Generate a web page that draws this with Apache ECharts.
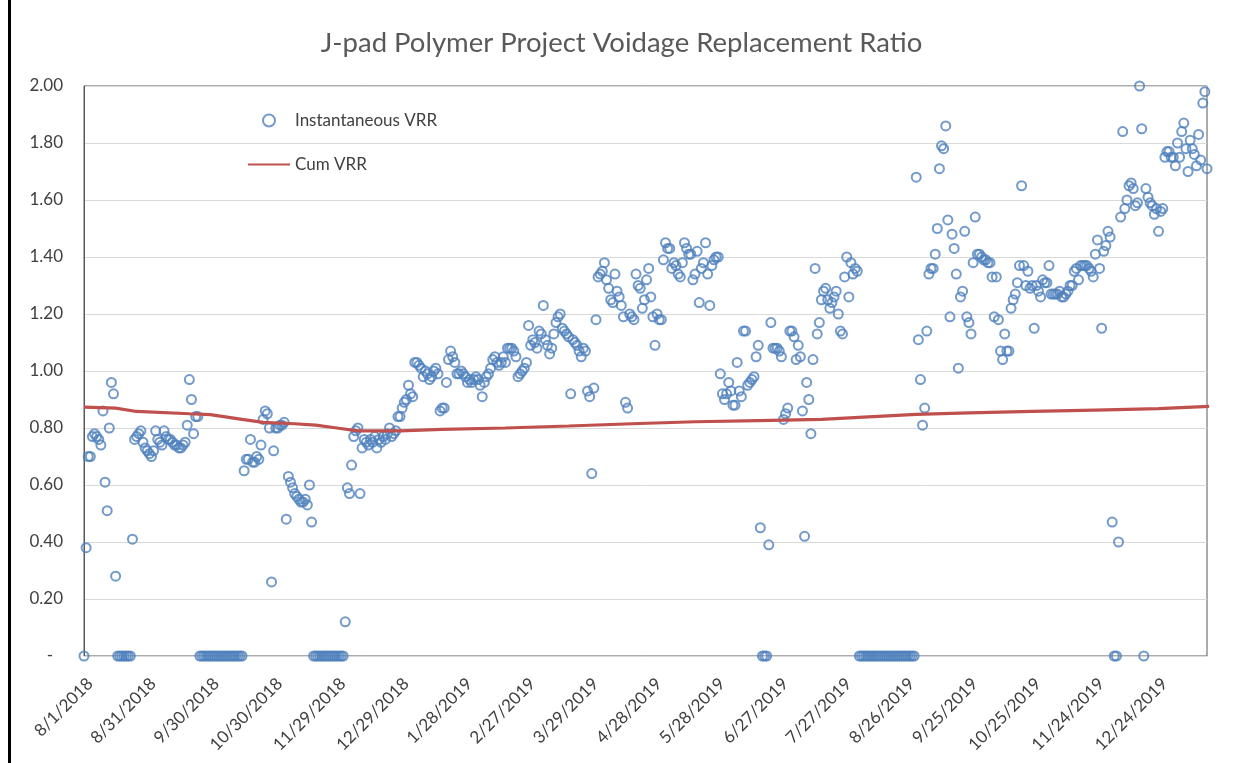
<!DOCTYPE html>
<html><head><meta charset="utf-8">
<script src="https://cdn.jsdelivr.net/npm/echarts@6/dist/echarts.min.js"></script>
<style>html,body{margin:0;padding:0;background:#fff}#c{width:1243px;height:763px}</style>
</head><body><div id="c"></div>
<script>
// Daily Instantaneous VRR, day 0 = 8/1/2018 (one array per month)
const vrrAug2018 = [0,0.38,0.70,0.70,0.77,0.78,0.77,0.76,0.74,0.86,0.61,0.51,0.80,0.96,0.92,0.28,0,0,0,0,0,0,0,0.41,0.76,0.77,0.78,0.79,0.75,0.73,0.72];
const vrrSep2018 = [0.71,0.70,0.72,0.79,0.76,0.75,0.74,0.79,0.77,0.76,0.76,0.75,0.74,0.74,0.73,0.73,0.74,0.75,0.81,0.97,0.90,0.78,0.84,0.84,0,0,0,0,0,0];
const vrrOct2018 = [0,0,0,0,0,0,0,0,0,0,0,0,0,0,0,0.65,0.69,0.69,0.76,0.68,0.68,0.70,0.69,0.74,0.83,0.86,0.85,0.80,0.26,0.72,0.80];
const vrrNov2018 = [0.80,0.81,0.81,0.82,0.48,0.63,0.61,0.59,0.57,0.56,0.55,0.54,0.54,0.55,0.53,0.60,0.47,0,0,0,0,0,0,0,0,0,0,0,0];
const vrrDec2018 = [0,0,0,0.12,0.59,0.57,0.67,0.77,0.79,0.80,0.57,0.73,0.76,0.75,0.74,0.76,0.75,0.77,0.73,0.76,0.75,0.77,0.76,0.78,0.80,0.77,0.78,0.79,0.84,0.84,0.87];
const vrrJan2019 = [0.89,0.90,0.95,0.92,0.91,1.03,1.03,1.02,1.01,0.98,1.00,0.99,0.97,0.98,1.00,1.01,0.99,0.86,0.87,0.87,0.96,1.04,1.07,1.05,1.03,0.99,0.99,1.00,0.99,0.98,0.96];
const vrrFeb2019 = [0.97,0.96,0.97,0.98,0.97,0.95,0.91,0.96,0.98,0.99,1.01,1.04,1.05,1.03,1.02,1.03,1.05,1.03,1.08,1.08,1.08,1.07,1.05,0.98,0.99,1.00,1.01,1.03];
const vrrMar2019 = [1.16,1.09,1.11,1.10,1.08,1.14,1.13,1.23,1.11,1.09,1.06,1.08,1.13,1.17,1.19,1.20,1.15,1.14,1.13,1.12,0.92,1.11,1.10,1.09,1.07,1.05,1.08,1.07,0.93,0.91,0.64];
const vrrApr2019 = [0.94,1.18,1.33,1.34,1.35,1.38,1.32,1.29,1.25,1.24,1.34,1.28,1.26,1.23,1.19,0.89,0.87,1.20,1.19,1.18,1.34,1.30,1.29,1.22,1.25,1.32,1.36,1.26,1.19,1.09];
const vrrMay2019 = [1.20,1.18,1.18,1.39,1.45,1.43,1.43,1.36,1.38,1.37,1.34,1.33,1.38,1.45,1.43,1.41,1.41,1.32,1.34,1.42,1.24,1.36,1.38,1.45,1.34,1.23,1.37,1.39,1.40,1.40,0.99];
const vrrJun2019 = [0.92,0.90,0.92,0.96,0.93,0.88,0.88,1.03,0.93,0.91,1.14,1.14,0.95,0.96,0.97,0.98,1.05,1.09,0.45,0,0,0,0.39,1.17,1.08,1.08,1.08,1.07,1.05,0.83];
const vrrJul2019 = [0.85,0.87,1.14,1.14,1.12,1.04,1.09,1.05,0.86,0.42,0.96,0.90,0.78,1.04,1.36,1.13,1.17,1.25,1.28,1.29,1.25,1.22,1.24,1.26,1.28,1.20,1.14,1.13,1.33,1.40,1.26];
const vrrAug2019 = [1.38,1.34,1.36,1.35,0,0,0,0,0,0,0,0,0,0,0,0,0,0,0,0,0,0,0,0,0,0,0,0,0,0,0];
const vrrSep2019 = [1.68,1.11,0.97,0.81,0.87,1.14,1.34,1.36,1.36,1.41,1.50,1.71,1.79,1.78,1.86,1.53,1.19,1.48,1.43,1.34,1.01,1.26,1.28,1.49,1.19,1.17,1.13,1.38,1.54,1.41];
const vrrOct2019 = [1.41,1.40,1.39,1.39,1.38,1.38,1.33,1.19,1.33,1.18,1.07,1.04,1.13,1.07,1.07,1.22,1.25,1.27,1.31,1.37,1.65,1.37,1.30,1.35,1.29,1.30,1.15,1.30,1.28,1.26,1.32];
const vrrNov2019 = [1.31,1.31,1.37,1.27,1.27,1.27,1.27,1.28,1.26,1.26,1.27,1.28,1.30,1.30,1.35,1.36,1.32,1.37,1.37,1.37,1.37,1.36,1.35,1.33,1.41,1.46,1.36,1.15,1.42,1.44];
const vrrDec2019 = [1.49,1.47,0.47,0,0,0.40,1.54,1.84,1.57,1.60,1.65,1.66,1.64,1.58,1.59,2.00,1.85,0,1.64,1.61,1.59,1.58,1.55,1.57,1.49,1.56,1.57,1.75,1.77,1.77,1.75];
const vrrJan2020 = [1.75,1.72,1.80,1.75,1.84,1.87,1.78,1.70,1.81,1.78,1.76,1.72,1.83,1.74,1.94,1.98,1.71];

// Cumulative VRR read at selected days
const cumDays = [0,15,25,50,60,75,85,100,110,120,130,150,170,200,230,260,290,320,350,370,395,420,450,480,510,534];
const cumVals = [0.873,0.870,0.858,0.850,0.847,0.830,0.820,0.815,0.810,0.800,0.790,0.790,0.795,0.800,0.807,0.815,0.822,0.826,0.830,0.838,0.848,0.853,0.858,0.863,0.868,0.876];

const yTicks = [0,0.2,0.4,0.6,0.8,1.0,1.2,1.4,1.6,1.8,2.0];
const titleText = 'J-pad Polymer Project Voidage Replacement Ratio';
const seriesNames = ['Instantaneous VRR','Cum VRR'];

const vrr = [].concat(vrrAug2018,vrrSep2018,vrrOct2018,vrrNov2018,vrrDec2018,vrrJan2019,vrrFeb2019,vrrMar2019,vrrApr2019,vrrMay2019,vrrJun2019,vrrJul2019,vrrAug2019,vrrSep2019,vrrOct2019,vrrNov2019,vrrDec2019,vrrJan2020);
const lastDay = vrr.length - 1;
function dayLabel(d){ const dt = new Date(2018,7,1+d); return (dt.getMonth()+1)+'/'+dt.getDate()+'/'+dt.getFullYear(); }

const FONT = 'Lato, "Open Sans", sans-serif';
const chart = echarts.init(document.getElementById('c'), null, {renderer:'canvas'});
chart.setOption({
  backgroundColor:'#fff',
  animation:false,
  title:{text:titleText,left:'center',top:24,textStyle:{fontFamily:FONT,fontSize:27.5,fontWeight:'normal',color:'#595959'}},
  legend:{orient:'vertical',left:242,top:107,itemWidth:42,itemHeight:12,itemGap:27,
    textStyle:{fontFamily:FONT,fontSize:17,color:'#404040'},
    data:[{name:seriesNames[0]},{name:seriesNames[1],itemStyle:{color:'rgba(0,0,0,0)',borderWidth:0,opacity:0}}]},
  grid:{left:84,right:36,top:86,bottom:107,show:true,borderColor:'#595959',borderWidth:1,backgroundColor:'transparent'},
  xAxis:{type:'value',min:0,max:lastDay,interval:30,
    axisLine:{show:true,lineStyle:{color:'#d9d9d9'}},axisTick:{show:false},splitLine:{show:false},
    axisLabel:{rotate:45,margin:19,verticalAlign:'top',fontFamily:FONT,fontSize:17,color:'#404040',showMaxLabel:false,
      formatter:v=>dayLabel(v)}},
  yAxis:{type:'value',min:yTicks[0],max:yTicks[yTicks.length-1],interval:0.2,
    axisLine:{show:true,lineStyle:{color:'#595959'}},axisTick:{show:false},
    splitLine:{lineStyle:{color:'#d9d9d9'}},
    axisLabel:{margin:21,fontFamily:FONT,fontSize:17,color:'#404040',
      formatter:v=>Math.abs(v)<1e-9?'{z|-}':v.toFixed(2),rich:{z:{padding:[0,10,0,0],fontFamily:FONT,fontSize:17,color:'#404040'}}}},
  series:[
    {name:seriesNames[0],type:'scatter',clip:false,symbol:'circle',symbolSize:9,
      itemStyle:{color:'rgba(0,0,0,0)',borderColor:'#4F81BD',borderWidth:2},
      data:vrr.map((v,i)=>[i,v]),z:3},
    {name:seriesNames[1],type:'line',symbol:'none',showSymbol:false,
      lineStyle:{color:'#C0504D',width:3.2},itemStyle:{color:'#C0504D'},
      data:cumDays.map((d,i)=>[d,cumVals[i]]),z:4}
  ],
  graphic:[{type:'rect',shape:{x:8,y:0,width:3,height:763},style:{fill:'#000'},silent:true}]
});
</script></body></html>
